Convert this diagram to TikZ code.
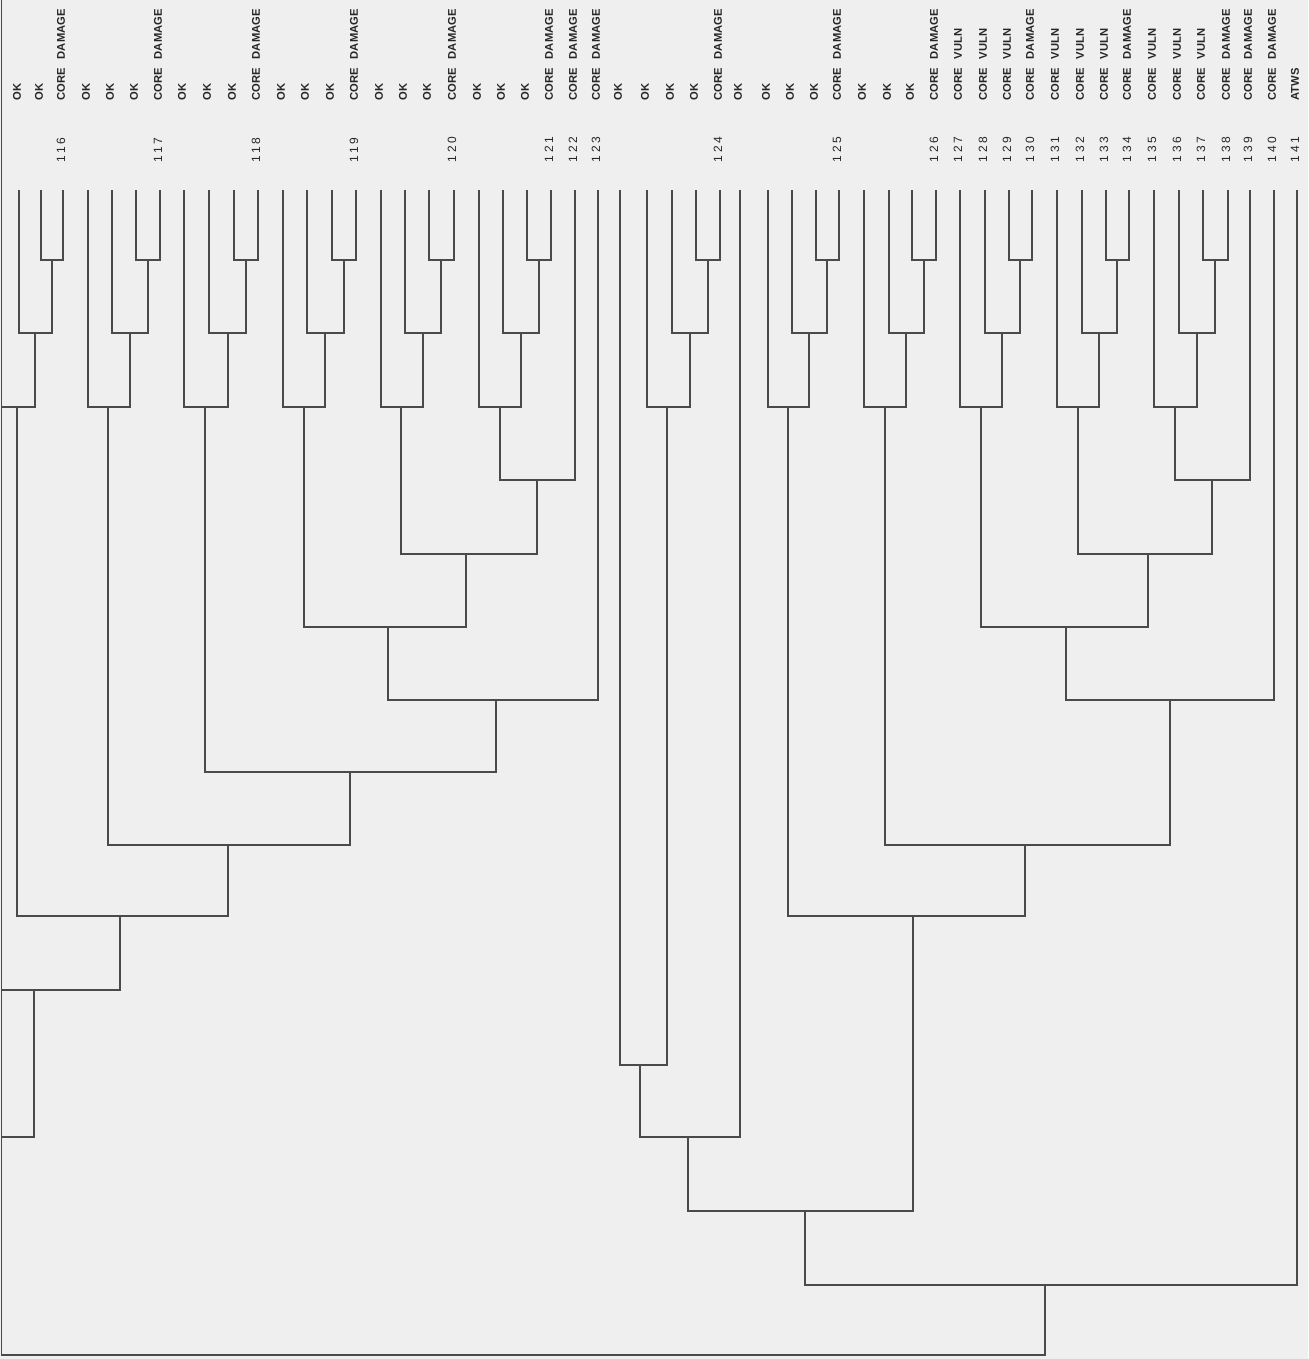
\documentclass[tikz,border=0pt]{standalone}
\usepackage{fontspec}
\setmainfont{Liberation Sans}
\newfontfamily\numfont[LetterSpace=25]{Liberation Sans}
\usepackage{xcolor}
\definecolor{paper}{HTML}{EFEFEF}
\definecolor{ink}{HTML}{4A4A4A}
\newcommand\coredmg{CORE \hspace{3pt}DAMAGE}
\newcommand\corevuln{CORE \hspace{3pt}VULN}

\begin{document}
\begin{tikzpicture}[x=0.5pt, y=-0.5pt,
  br/.style={draw=ink, line width=0.9pt},
  lab/.style={rotate=90, anchor=west, inner sep=0pt, text=black!85,
              font=\bfseries\fontsize{5.6}{6}\selectfont},
  num/.style={rotate=90, anchor=west, inner sep=0pt, text=black!85,
              font=\numfont\fontsize{6}{7}\selectfont}]
  \fill[paper] (0,0) rectangle (1308,1359);
  \useasboundingbox (0,0) rectangle (1308,1359);
  % ---- end states: one leaf per sequence, the label reads upwards
  \foreach \i/\x/\t in {1/19/OK, 2/41/OK, 3/63/\coredmg,
      4/88/OK, 5/112/OK, 6/136/OK, 7/160/\coredmg,
      8/184/OK, 9/209/OK, 10/234/OK, 11/258/\coredmg,
      12/283/OK, 13/307/OK, 14/332/OK, 15/356/\coredmg,
      16/381/OK, 17/405/OK, 18/429/OK, 19/454/\coredmg,
      20/479/OK, 21/503/OK, 22/527/OK, 23/551/\coredmg,
      24/575/\coredmg, 25/598/\coredmg, 26/620/OK,
      27/647/OK, 28/672/OK, 29/696/OK, 30/720/\coredmg, 31/740/OK,
      32/768/OK, 33/792/OK, 34/816/OK, 35/839/\coredmg,
      36/864/OK, 37/889/OK, 38/912/OK, 39/936/\coredmg,
      40/960/\corevuln, 41/985/\corevuln, 42/1009/\corevuln, 43/1032/\coredmg,
      44/1057/\corevuln, 45/1082/\corevuln, 46/1106/\corevuln, 47/1129/\coredmg,
      48/1154/\corevuln, 49/1179/\corevuln, 50/1203/\corevuln, 51/1228/\coredmg,
      52/1250/\coredmg, 53/1274/\coredmg, 54/1297/ATWS}
  {
    \coordinate (l\i) at (\x,190);
    \node[lab] (t\i) at (\x-2,101) {\t};
  }
  % sequence numbers under the end states
  \foreach \i/\n in {3/116, 7/117, 11/118, 15/119, 19/120, 23/121, 24/122, 25/123,
      30/124, 35/125, 39/126, 40/127, 41/128, 42/129, 43/130, 44/131, 45/132,
      46/133, 47/134, 48/135, 49/136, 50/137, 51/138, 52/139, 53/140, 54/141}
    \node[num] (n\n) at ([xshift=-1pt, yshift=13.5pt]l\i) {\n};
  % the off-page branches all run down the left edge
  \coordinate (off) at (1.5,0);

  % ---- left half: groups 116 to 123
  \coordinate (g116a) at (52,260);  \coordinate (g116b) at (35,333);  \coordinate (g116c) at (17,407);
  \coordinate (g117a) at (148,260); \coordinate (g117b) at (130,333); \coordinate (g117c) at (108,407);
  \coordinate (g118a) at (246,260); \coordinate (g118b) at (228,333); \coordinate (g118c) at (205,407);
  \coordinate (g119a) at (344,260); \coordinate (g119b) at (325,333); \coordinate (g119c) at (304,407);
  \coordinate (g120a) at (441,260); \coordinate (g120b) at (423,333); \coordinate (g120c) at (401,407);
  \coordinate (g121a) at (539,260); \coordinate (g121b) at (521,333); \coordinate (g121c) at (500,407);
  \coordinate (m1) at (537,480);
  \coordinate (m2) at (466,554);
  \coordinate (m3) at (388,627);
  \coordinate (m4) at (496,700);
  \coordinate (m5) at (350,772);
  \coordinate (m6) at (228,845);
  \coordinate (m7) at (120,916);
  \coordinate (m8) at (34,990);
  \coordinate (m9) at (1.5,1137);

  \draw[br] (l2) |- (g116a) -| (l3);
  \draw[br] (l1) |- (g116b) -| (g116a);
  \draw[br] (g116b) |- (g116c) -| (off);
  \draw[br] (l6) |- (g117a) -| (l7);
  \draw[br] (l5) |- (g117b) -| (g117a);
  \draw[br] (l4) |- (g117c) -| (g117b);
  \draw[br] (l10) |- (g118a) -| (l11);
  \draw[br] (l9) |- (g118b) -| (g118a);
  \draw[br] (l8) |- (g118c) -| (g118b);
  \draw[br] (l14) |- (g119a) -| (l15);
  \draw[br] (l13) |- (g119b) -| (g119a);
  \draw[br] (l12) |- (g119c) -| (g119b);
  \draw[br] (l18) |- (g120a) -| (l19);
  \draw[br] (l17) |- (g120b) -| (g120a);
  \draw[br] (l16) |- (g120c) -| (g120b);
  \draw[br] (l22) |- (g121a) -| (l23);
  \draw[br] (l21) |- (g121b) -| (g121a);
  \draw[br] (l20) |- (g121c) -| (g121b);
  \draw[br] (g121c) |- (m1) -| (l24);
  \draw[br] (g120c) |- (m2) -| (m1);
  \draw[br] (g119c) |- (m3) -| (m2);
  \draw[br] (m3) |- (m4) -| (l25);
  \draw[br] (g118c) |- (m5) -| (m4);
  \draw[br] (g117c) |- (m6) -| (m5);
  \draw[br] (g116c) |- (m7) -| (m6);
  \draw[br] (m7) |- (m8) -| (off);
  \draw[br] (m8) |- (m9) -| (off);

  % ---- right half: groups 124 to 141
  \coordinate (g124a) at (708,260);  \coordinate (g124b) at (690,333);  \coordinate (g124c) at (667,407);
  \coordinate (g125a) at (827,260);  \coordinate (g125b) at (809,333);  \coordinate (g125c) at (788,407);
  \coordinate (g126a) at (924,260);  \coordinate (g126b) at (906,333);  \coordinate (g126c) at (885,407);
  \coordinate (g130a) at (1020,260); \coordinate (g130b) at (1002,333); \coordinate (g130c) at (981,407);
  \coordinate (g134a) at (1117,260); \coordinate (g134b) at (1099,333); \coordinate (g134c) at (1078,407);
  \coordinate (g138a) at (1215,260); \coordinate (g138b) at (1197,333); \coordinate (g138c) at (1175,407);
  \coordinate (r1) at (640,1065);
  \coordinate (r2) at (688,1137);
  \coordinate (s1) at (1212,480);
  \coordinate (s2) at (1148,554);
  \coordinate (s3) at (1066,627);
  \coordinate (s4) at (1170,700);
  \coordinate (s5) at (1025,845);
  \coordinate (s6) at (913,916);
  \coordinate (s7) at (805,1211);
  \coordinate (s8) at (1045,1285);
  \coordinate (s9) at (1.5,1355);

  \draw[br] (l29) |- (g124a) -| (l30);
  \draw[br] (l28) |- (g124b) -| (g124a);
  \draw[br] (l27) |- (g124c) -| (g124b);
  \draw[br] (l34) |- (g125a) -| (l35);
  \draw[br] (l33) |- (g125b) -| (g125a);
  \draw[br] (l32) |- (g125c) -| (g125b);
  \draw[br] (l38) |- (g126a) -| (l39);
  \draw[br] (l37) |- (g126b) -| (g126a);
  \draw[br] (l36) |- (g126c) -| (g126b);
  \draw[br] (l42) |- (g130a) -| (l43);
  \draw[br] (l41) |- (g130b) -| (g130a);
  \draw[br] (l40) |- (g130c) -| (g130b);
  \draw[br] (l46) |- (g134a) -| (l47);
  \draw[br] (l45) |- (g134b) -| (g134a);
  \draw[br] (l44) |- (g134c) -| (g134b);
  \draw[br] (l50) |- (g138a) -| (l51);
  \draw[br] (l49) |- (g138b) -| (g138a);
  \draw[br] (l48) |- (g138c) -| (g138b);
  \draw[br] (l26) |- (r1) -| (g124c);
  \draw[br] (r1) |- (r2) -| (l31);
  \draw[br] (g138c) |- (s1) -| (l52);
  \draw[br] (g134c) |- (s2) -| (s1);
  \draw[br] (g130c) |- (s3) -| (s2);
  \draw[br] (s3) |- (s4) -| (l53);
  \draw[br] (g126c) |- (s5) -| (s4);
  \draw[br] (g125c) |- (s6) -| (s5);
  \draw[br] (r2) |- (s7) -| (s6);
  \draw[br] (s7) |- (s8) -| (l54);
  \draw[br] (s8) |- (s9) -| (off);
\end{tikzpicture}
\end{document}
